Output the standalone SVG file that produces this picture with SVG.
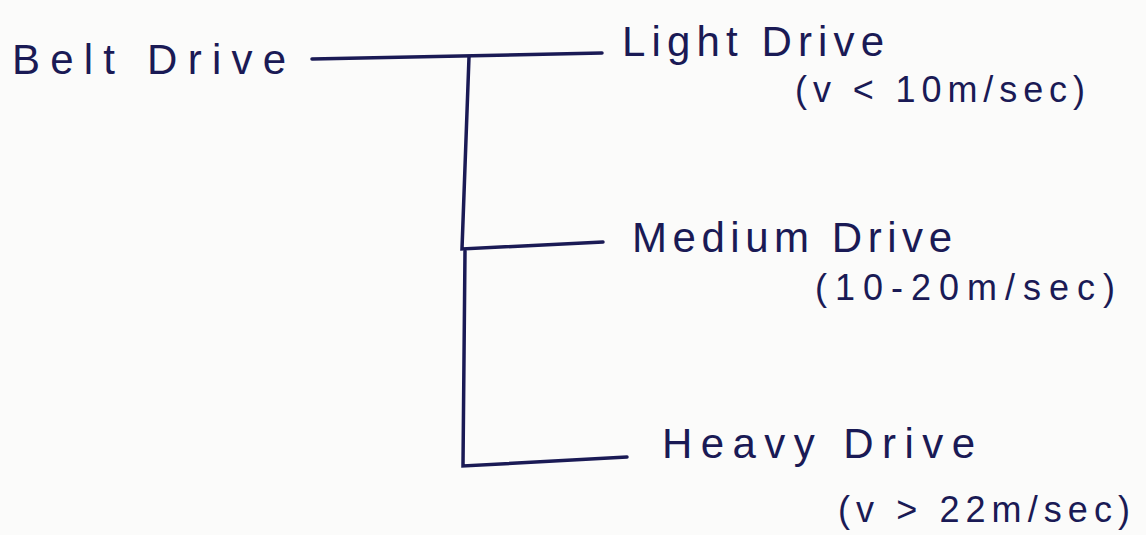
<svg xmlns="http://www.w3.org/2000/svg" width="1146" height="535" viewBox="0 0 1146 535">
<style>
.t{font-family:"Liberation Sans","DejaVu Sans",sans-serif;fill:#1a1a55;}
.n{font-size:42px;}
.s{font-size:36px;}
.c{stroke:#1a1a55;stroke-width:3.5;fill:none;stroke-linecap:round;}
</style>
<rect width="1146" height="535" fill="#fbfbfa"/>
<g id="connectors">
<path class="c" d="M312 59 L602 53"/>
<path class="c" d="M469 57 L462 249 L603 242"/>
<path class="c" d="M465 251 L463 466 L627 457"/>
</g>
<g id="belt-drive"><text class="t n" x="12" y="74" textLength="274" lengthAdjust="spacing">Belt Drive</text></g>
<g id="light-drive">
<text class="t n" x="622" y="56" textLength="262" lengthAdjust="spacing">Light Drive</text>
<text class="t s" x="795" y="102" textLength="290" lengthAdjust="spacing">(v &lt; 10m/sec)</text>
</g>
<g id="medium-drive">
<text class="t n" x="632" y="252" textLength="320" lengthAdjust="spacing">Medium Drive</text>
<text class="t s" x="815" y="300" textLength="300" lengthAdjust="spacing">(10-20m/sec)</text>
</g>
<g id="heavy-drive">
<text class="t n" x="662" y="458" textLength="313" lengthAdjust="spacing">Heavy  Drive</text>
<text class="t s" x="838" y="522" textLength="292" lengthAdjust="spacing">(v &gt; 22m/sec)</text>
</g>
</svg>
